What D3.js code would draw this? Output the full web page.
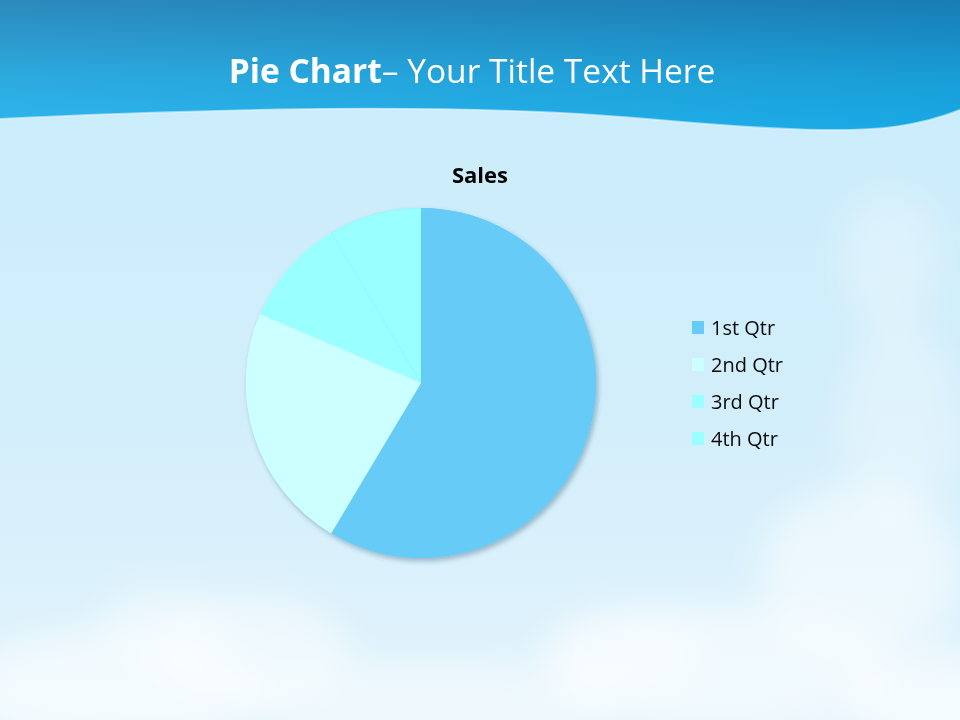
<!DOCTYPE html>
<html><head><meta charset="utf-8">
<script src="https://cdn.jsdelivr.net/npm/d3@7"></script>
<style>html,body{margin:0;padding:0;overflow:hidden;background:#d6f0fb}</style>
</head><body>
<svg id="c" width="960" height="720"></svg>
<script>
const categories = ["1st Qtr", "2nd Qtr", "3rd Qtr", "4th Qtr"];
const sales = [8.2, 3.2, 1.4, 1.2];
const colors = ["#66CCF7", "#CCFFFF", "#99FFFF", "#9AFFFF"];
const chartTitle = "Sales";
const slideTitleBold = "Pie Chart";
const slideTitleRest = "– Your Title Text Here";

const svg = d3.select("#c");
const defs = svg.append("defs");

// sky gradient
const sky = defs.append("linearGradient").attr("id","sky").attr("x1",0).attr("y1",0).attr("x2",0).attr("y2",1);
sky.append("stop").attr("offset","0%").attr("stop-color","#c9ecfb");
sky.append("stop").attr("offset","55%").attr("stop-color","#d2eefb");
sky.append("stop").attr("offset","100%").attr("stop-color","#e2f4fc");
svg.append("rect").attr("width",960).attr("height",720).attr("fill","url(#sky)");

// clouds
const blur = defs.append("filter").attr("id","blur").attr("x","-50%").attr("y","-50%").attr("width","200%").attr("height","200%");
blur.append("feGaussianBlur").attr("stdDeviation",18);
const cloudG = svg.append("g").attr("filter","url(#blur)").attr("fill","#ffffff");
const clouds = [
  [110,690,150,60,0.6],[250,650,100,55,0.5],[160,620,60,35,0.4],[430,705,190,45,0.45],
  [720,670,170,65,0.55],[860,570,100,85,0.5],[900,420,60,100,0.3],[890,260,50,70,0.3],
  [620,650,80,45,0.4],[930,705,80,55,0.6]
];
clouds.forEach(c => cloudG.append("ellipse").attr("cx",c[0]).attr("cy",c[1]).attr("rx",c[2]).attr("ry",c[3]).attr("opacity",c[4]));

// header band with wave
const hdr = defs.append("linearGradient").attr("id","hdr").attr("x1",0).attr("y1",0).attr("x2",0).attr("y2",1);
hdr.append("stop").attr("offset","0%").attr("stop-color","#1a7fb6");
hdr.append("stop").attr("offset","60%").attr("stop-color","#1ba3dc");
hdr.append("stop").attr("offset","100%").attr("stop-color","#1ab0ec");
const hdrH = defs.append("linearGradient").attr("id","hdrH").attr("x1",0).attr("y1",0).attr("x2",1).attr("y2",0);
hdrH.append("stop").attr("offset","0%").attr("stop-color","#ffffff").attr("stop-opacity",0.08);
hdrH.append("stop").attr("offset","100%").attr("stop-color","#005a9a").attr("stop-opacity",0.08);
const wave = "M0,0 L960,0 L960,110 C920,126 880,131 820,130 C720,128 640,116 540,112 C420,107 300,108 180,112 C100,114 40,117 0,119 Z";
svg.append("path").attr("d",wave).attr("fill","url(#hdr)");
svg.append("path").attr("d",wave).attr("fill","url(#hdrH)");
svg.append("path").attr("d","M0,119 C40,117 100,114 180,112 C300,108 420,107 540,112 C640,116 720,128 820,130 C880,131 920,126 960,110")
  .attr("fill","none").attr("stroke","#e6f7fe").attr("stroke-opacity",0.6).attr("stroke-width",2);

// slide title
const t = svg.append("text").attr("x",472).attr("y",83).attr("text-anchor","middle")
  .attr("font-family","'Open Sans', 'Noto Sans', sans-serif").attr("font-size",33.5).attr("fill","#ffffff");
t.append("tspan").attr("font-weight","bold").text(slideTitleBold);
t.append("tspan").text(slideTitleRest);

// chart title
svg.append("text").attr("x",480).attr("y",183).attr("text-anchor","middle")
  .attr("font-family","'Open Sans', 'Noto Sans', sans-serif").attr("font-weight","bold").attr("font-size",22).attr("fill","#000").text(chartTitle);

// pie
const cx = 421, cy = 383, r = 175;
const shadow = defs.append("filter").attr("id","sh").attr("x","-20%").attr("y","-20%").attr("width","140%").attr("height","140%");
shadow.append("feDropShadow").attr("dx",2).attr("dy",3).attr("stdDeviation",2.5).attr("flood-color","#1a4a66").attr("flood-opacity",0.35);

const pie = d3.pie().sort(null).value(d => d);
const arc = d3.arc().innerRadius(0).outerRadius(r);
const color = d3.scaleOrdinal().domain(categories).range(colors);
const g = svg.append("g").attr("transform",`translate(${cx},${cy})`).attr("filter","url(#sh)");
g.selectAll("path").data(pie(sales)).join("path")
  .attr("d",arc).attr("fill",(d,i)=>color(categories[i]))
  .attr("stroke",(d,i)=> i===3 ? "#8ef2f8" : "none").attr("stroke-width",0.6);
g.selectAll("path.f").data(pie(sales).slice(0,2)).join("path").attr("class","f")
  .attr("d",arc).attr("fill",(d,i)=>color(categories[i]));

// legend
const leg = svg.append("g").attr("transform","translate(692,321)");
const li = leg.selectAll("g").data(categories).join("g").attr("transform",(d,i)=>`translate(0,${i*37})`);
li.append("rect").attr("width",12).attr("height",13).attr("fill",d=>color(d));
li.append("text").attr("x",19).attr("y",13.5).attr("font-family","'Open Sans', 'Noto Sans', sans-serif")
  .attr("font-size",20).attr("fill","#0a0a0a").text(d=>d);
</script>
</body></html>
